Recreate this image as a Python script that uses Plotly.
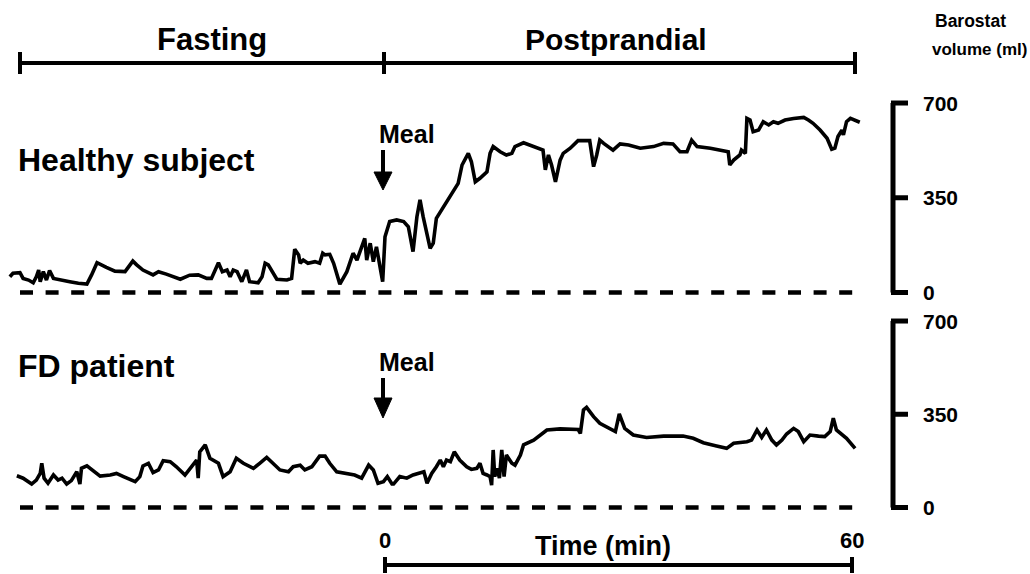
import plotly.graph_objects as go

# ---------------- data (minutes relative to meal, ml) ----------------
healthy_t = [-48.2, -47.8, -46.9, -46.5, -45.8, -45.2, -44.8, -44.5, -44.3, -43.9, -43.5, -43.1, -42.6,
             -41.5, -40.5, -39.4, -38.3, -37.7, -37.0, -35.8, -34.7, -33.4, -33.0, -32.4, -31.9, -31.1,
             -29.8, -29.1, -28.1, -26.3, -25.1, -24.0, -22.9, -22.3, -21.4, -20.9, -20.3, -19.9, -19.5,
             -19.0, -18.4, -17.8, -17.4, -16.3, -15.8, -15.4, -15.0, -13.9, -12.6, -12.0, -11.6, -11.1,
             -10.9, -10.5, -9.9, -9.0, -8.4, -8.0, -7.7, -7.1, -6.6, -5.8, -4.9, -4.1, -3.6, -3.0, -2.6,
             -2.35, -2.1, -1.9, -1.5, -1.1, -0.3, 0.0, 0.6, 1.5, 2.4, 3.0, 3.6, 4.1, 4.5, 4.9, 5.8, 6.2,
             6.6, 7.1, 7.7, 8.6, 9.4, 9.9, 10.7, 11.1, 11.6, 12.2, 13.1, 13.5, 13.9, 14.8, 15.6, 16.3,
             16.7, 17.8, 19.1, 20.3, 20.6, 21.0, 21.4, 21.9, 22.5, 22.9, 23.8, 24.8, 26.3, 26.8, 27.2,
             27.6, 28.1, 29.3, 30.2, 31.3, 32.8, 34.5, 35.8, 37.0, 37.9, 38.8, 39.4, 40.1, 41.8, 43.0,
             44.1, 44.3, 44.8, 45.6, 45.8, 46.3, 46.5, 46.9, 47.3, 48.0, 48.6, 49.3, 49.9, 50.5, 51.4,
             52.5, 53.8, 54.4, 55.0, 55.9, 56.8, 57.4, 57.8, 58.2, 58.7, 58.9, 59.3, 59.8, 60.4, 61.0]
healthy_ml = [58, 71, 73, 52, 46, 36, 58, 83, 40, 77, 46, 81, 52,
              44, 40, 34, 31, 65, 110, 93, 79, 77, 95, 116, 102, 83,
              65, 77, 68, 49, 64, 65, 52, 52, 110, 77, 83, 58, 83,
              77, 40, 83, 40, 36, 58, 108, 102, 49, 46, 52, 160, 139,
              108, 120, 108, 114, 108, 145, 139, 141, 108, 31, 77, 145, 120, 169, 200,
              120, 157, 182, 114, 169, 40, 206, 262, 268, 262, 243, 151, 280, 342, 280, 163, 182,
              274, 298, 323, 366, 403, 471, 514, 483, 409, 422, 446, 514, 539, 520, 508, 514,
              539, 553, 539, 526, 453, 508, 471, 409, 489, 514, 533, 561, 561, 465, 508,
              563, 551, 526, 549, 545, 533, 539, 551, 549, 520, 520, 563, 539, 533, 526,
              520, 471, 489, 508, 526, 514, 643, 637, 594, 600, 631, 619, 631, 625, 637,
              643, 647, 637, 625, 600, 570, 529, 533, 576, 600, 582, 631, 643, 637, 629]

fd_t = [-47.3, -46.5, -45.4, -44.8, -44.3, -44.1, -43.8, -43.3, -42.6, -42.0, -41.5, -40.9, -40.3,
        -39.6, -39.2, -39.0, -38.3, -37.7, -36.6, -35.3, -34.5, -33.6, -32.8, -32.1, -31.5, -31.1,
        -30.4, -29.8, -29.1, -28.5, -27.6, -26.8, -25.7, -24.8, -24.2, -24.0, -23.8, -23.1, -22.5,
        -21.4, -20.8, -19.9, -19.1, -18.2, -16.9, -16.1, -15.2, -14.4, -13.5, -12.4, -11.8, -10.9,
        -10.3, -9.4, -8.4, -7.7, -7.1, -6.2, -4.9, -3.9, -3.0, -2.1, -1.5, -0.9, -0.2, 0.3, 0.9,
        1.1, 1.9, 2.8, 3.6, 4.5, 5.0, 5.4, 6.0, 6.6, 7.1, 7.5, 7.9, 8.4, 8.9, 9.6, 10.5, 11.1,
        11.8, 12.2, 12.6, 13.1, 13.5, 13.7, 13.9, 14.1, 14.4, 14.7, 15.0, 15.3, 15.6, 16.3, 16.7,
        17.4, 17.8, 19.1, 20.8, 22.5, 24.8, 25.1, 25.5, 25.9, 26.8, 27.6, 28.7, 29.6, 30.1, 30.8,
        31.9, 33.6, 35.8, 38.3, 39.6, 40.9, 42.6, 43.9, 44.8, 46.5, 47.1, 47.8, 48.4, 49.0, 49.7,
        50.3, 51.0, 51.6, 52.5, 53.1, 53.8, 54.6, 55.7, 56.5, 57.2, 57.6, 58.0, 58.7, 59.3, 60.4]
fd_ml = [119, 110, 88, 103, 128, 166, 110, 91, 122, 103, 110, 88, 101,
         134, 88, 147, 156, 143, 118, 122, 128, 116, 106, 97, 116, 156,
         166, 131, 141, 176, 172, 153, 122, 153, 178, 110, 209, 235, 185,
         166, 116, 134, 185, 166, 147, 166, 188, 166, 141, 134, 153, 159,
         141, 153, 193, 193, 166, 134, 128, 122, 110, 159, 141, 91, 97, 116, 88,
         88, 116, 110, 122, 131, 134, 91, 128, 153, 178, 153, 178, 172, 209, 178, 153, 143,
         147, 166, 128, 122, 116, 84, 216, 116, 147, 110, 216, 116, 197, 166, 159,
         197, 235, 253, 291, 295, 293, 278, 366, 376, 341, 316, 297, 285, 351, 297,
         272, 263, 268, 268, 260, 243, 231, 222, 241, 247, 253, 291, 263, 291, 253,
         235, 253, 276, 297, 285, 247, 272, 268, 266, 285, 335, 291, 272, 260, 222]

volume_ticks = [0, 350, 700]
time_ticks = [0, 60]
period_labels = ["Fasting", "Postprandial"]
panel_labels = ["Healthy subject", "FD patient"]

# ---------------- layout geometry (pixels in a 1030x574 page) ----------------
W, H = 1030, 574
X0_PX, PX_PER_MIN = 385.0, 7.783
TOP0_PX, TOP_PX_PER_ML = 292.5, 0.2707
BOT0_PX, BOT_PX_PER_ML = 507.5, 0.2664

def xp(px):
    return px / W

def yp(py):
    return 1 - py / H

x_range = [(0 - X0_PX) / PX_PER_MIN, (W - X0_PX) / PX_PER_MIN]
top_range = [(TOP0_PX - H) / TOP_PX_PER_ML, TOP0_PX / TOP_PX_PER_ML]
bot_range = [(BOT0_PX - H) / BOT_PX_PER_ML, BOT0_PX / BOT_PX_PER_ML]

FONT = "Liberation Sans, Arial, sans-serif"
LW = 3.6

fig = go.Figure()
fig.add_trace(go.Scatter(x=healthy_t, y=healthy_ml, mode="lines", yaxis="y",
                         line=dict(color="black", width=LW), hoverinfo="skip"))
fig.add_trace(go.Scatter(x=fd_t, y=fd_ml, mode="lines", yaxis="y2",
                         line=dict(color="black", width=LW), hoverinfo="skip"))

shapes = []
ann = []

# dashed zero baselines
for yref in ["y", "y2"]:
    shapes.append(dict(type="line", xref="paper", yref=yref, x0=xp(20), x1=xp(856), y0=0, y1=0,
                       line=dict(color="black", width=4.5, dash="13px,12.6px")))

# right volume scales
for yref in ["y", "y2"]:
    shapes.append(dict(type="line", xref="paper", yref=yref, x0=xp(893), x1=xp(893),
                       y0=volume_ticks[0], y1=volume_ticks[-1], line=dict(color="black", width=5)))
    for v in volume_ticks:
        shapes.append(dict(type="line", xref="paper", yref=yref, x0=xp(891), x1=xp(908), y0=v, y1=v,
                           line=dict(color="black", width=5)))
        ann.append(dict(xref="paper", yref=yref, x=xp(921), y=v, text=f"<b>{v}</b>", showarrow=False,
                        xanchor="left", yanchor="middle", font=dict(family=FONT, size=21, color="black")))

# top period bar
BAR_Y = 63
shapes.append(dict(type="line", xref="paper", yref="paper", x0=xp(20), x1=xp(855), y0=yp(BAR_Y), y1=yp(BAR_Y),
                   line=dict(color="black", width=4)))
for px in [20, 384, 855]:
    shapes.append(dict(type="line", xref="paper", yref="paper", x0=xp(px), x1=xp(px),
                       y0=yp(BAR_Y - 11), y1=yp(BAR_Y + 11), line=dict(color="black", width=4)))
ann.append(dict(xref="paper", yref="paper", x=xp(212), y=yp(40), text=f"<b>{period_labels[0]}</b>",
                showarrow=False, xanchor="center", yanchor="middle",
                font=dict(family=FONT, size=31, color="black")))
ann.append(dict(xref="paper", yref="paper", x=xp(616), y=yp(40), text=f"<b>{period_labels[1]}</b>",
                showarrow=False, xanchor="center", yanchor="middle",
                font=dict(family=FONT, size=30, color="black")))
ann.append(dict(xref="paper", yref="paper", x=xp(933), y=yp(21), text="<b>Barostat</b>",
                showarrow=False, xanchor="left", yanchor="middle",
                font=dict(family=FONT, size=17.5, color="black")))
ann.append(dict(xref="paper", yref="paper", x=xp(930), y=yp(50), text="<b>volume (ml)</b>",
                showarrow=False, xanchor="left", yanchor="middle",
                font=dict(family=FONT, size=17, color="black")))

# panel labels
ann.append(dict(xref="paper", yref="paper", x=xp(16), y=yp(160), text=f"<b>{panel_labels[0]}</b>",
                showarrow=False, xanchor="left", yanchor="middle", font=dict(family=FONT, size=32, color="black")))
ann.append(dict(xref="paper", yref="paper", x=xp(16), y=yp(366), text=f"<b>{panel_labels[1]}</b>",
                showarrow=False, xanchor="left", yanchor="middle", font=dict(family=FONT, size=32, color="black")))

# meal markers
for text_y, shaft_top, head_top, tip in [(134, 150, 172, 190), (362, 378, 398, 418)]:
    ann.append(dict(xref="paper", yref="paper", x=xp(377), y=yp(text_y), text="<b>Meal</b>",
                    showarrow=False, xanchor="left", yanchor="middle", font=dict(family=FONT, size=25, color="black")))
    shapes.append(dict(type="line", xref="paper", yref="paper", x0=xp(383), x1=xp(383), y0=yp(shaft_top),
                       y1=yp(head_top + 2), line=dict(color="black", width=4)))
    shapes.append(dict(type="path", xref="paper", yref="paper",
                       path=f"M {xp(374)} {yp(head_top)} L {xp(392)} {yp(head_top)} L {xp(383)} {yp(tip)} Z",
                       fillcolor="black", line=dict(color="black", width=1)))

# time scale bar at bottom
TB_Y = 565
shapes.append(dict(type="line", xref="x", yref="paper", x0=time_ticks[0], x1=time_ticks[-1],
                   y0=yp(TB_Y), y1=yp(TB_Y), line=dict(color="black", width=4)))
for t in time_ticks:
    shapes.append(dict(type="line", xref="x", yref="paper", x0=t, x1=t, y0=yp(TB_Y - 8), y1=yp(TB_Y + 8),
                       line=dict(color="black", width=4)))
    ann.append(dict(xref="x", yref="paper", x=t, y=yp(540), text=f"<b>{t}</b>", showarrow=False,
                    xanchor="center", yanchor="middle", font=dict(family=FONT, size=22, color="black")))
ann.append(dict(xref="paper", yref="paper", x=xp(603), y=yp(546), text="<b>Time (min)</b>", showarrow=False,
                xanchor="center", yanchor="middle", font=dict(family=FONT, size=27, color="black")))

fig.update_layout(
    width=W, height=H, margin=dict(l=0, r=0, t=0, b=0),
    paper_bgcolor="white", plot_bgcolor="white", showlegend=False,
    xaxis=dict(range=x_range, visible=False, domain=[0, 1]),
    yaxis=dict(range=top_range, visible=False, domain=[0, 1]),
    yaxis2=dict(range=bot_range, visible=False, overlaying="y", domain=[0, 1]),
    shapes=shapes, annotations=ann,
)
fig.write_html("out.html")
